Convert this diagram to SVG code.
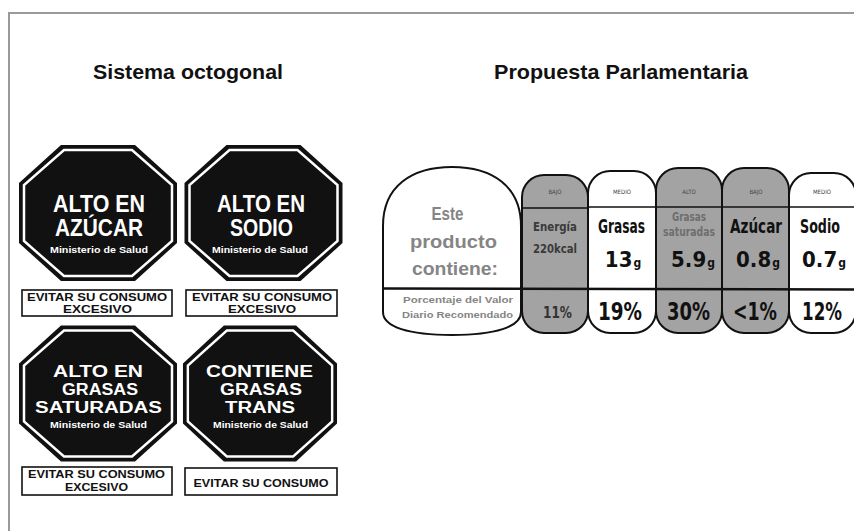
<svg xmlns="http://www.w3.org/2000/svg" width="854" height="531" viewBox="0 0 854 531">
<style>
.title{font-family:"Liberation Sans",Arial,sans-serif;font-weight:bold;font-size:21px;fill:#111;text-anchor:middle}
.oct{fill:#111}
.octin{fill:none;stroke:#fff;stroke-width:2.5}
.ot{font-family:"Liberation Sans",Arial,sans-serif;font-weight:bold;fill:#fff;text-anchor:middle}
.box{fill:#fff;stroke:#111;stroke-width:1.6}
.bt{font-family:"Liberation Sans",Arial,sans-serif;font-weight:bold;font-size:11px;fill:#111;text-anchor:middle}
.col{stroke:#111;stroke-width:2}
.gray{fill:#a3a3a3}
.white{fill:#fff}
.hl{stroke:#111;stroke-width:1.6}
.lt{font-family:"DejaVu Sans Condensed","Liberation Sans",sans-serif;text-anchor:middle}
.it{font-family:"Liberation Sans",Arial,sans-serif;font-weight:bold;fill:#858585;text-anchor:middle}
.hd{font-size:6px;fill:#444}
.nm{font-size:19px;font-weight:bold;fill:#111}
.val{font-size:22px;font-weight:bold;fill:#111}
.sub{font-size:12px}
.pct{font-size:24px;font-weight:bold;fill:#111}
</style>
<defs>
<path id="octo" d="M-37,-68 H37 L79,-30 V30 L37,68 H-37 L-79,30 V-30 Z"/>
<path id="octi" d="M-34,-63 H34 L74,-28 V28 L34,63 H-34 L-74,28 V-28 Z"/>
</defs>
<rect width="854" height="531" fill="#fff"/>
<g id="frame" fill="none" stroke="#9a9a9a" stroke-width="2">
<line x1="8" y1="13" x2="854" y2="13"/>
<line x1="9" y1="12" x2="9" y2="531"/>
</g>
<text class="title" x="188" y="79" textLength="190" lengthAdjust="spacingAndGlyphs">Sistema octogonal</text>
<text class="title" x="621" y="79" textLength="254" lengthAdjust="spacingAndGlyphs">Propuesta Parlamentaria</text>

<g id="oct-azucar">
<use href="#octo" class="oct" transform="translate(98,213)"/>
<use href="#octi" class="octin" transform="translate(98,213)"/>
<text class="ot" x="99" y="212" font-size="23" textLength="92" lengthAdjust="spacingAndGlyphs">ALTO EN</text>
<text class="ot" x="99" y="236" font-size="23" textLength="88" lengthAdjust="spacingAndGlyphs">AZÚCAR</text>
<text class="ot" x="99" y="253" font-size="9.5" textLength="98" lengthAdjust="spacingAndGlyphs">Ministerio de Salud</text>
</g>
<g id="box-azucar">
<rect class="box" x="22" y="290" width="150" height="26"/>
<text class="bt" x="97" y="301" textLength="140" lengthAdjust="spacingAndGlyphs">EVITAR SU CONSUMO</text>
<text class="bt" x="97.5" y="313" textLength="69" lengthAdjust="spacingAndGlyphs">EXCESIVO</text>
</g>

<g id="oct-sodio">
<use href="#octo" class="oct" transform="translate(263.5,213)"/>
<use href="#octi" class="octin" transform="translate(263.5,213)"/>
<text class="ot" x="261" y="212" font-size="23" textLength="88" lengthAdjust="spacingAndGlyphs">ALTO EN</text>
<text class="ot" x="261.5" y="236" font-size="23" textLength="63" lengthAdjust="spacingAndGlyphs">SODIO</text>
<text class="ot" x="260" y="253" font-size="9.5" textLength="96" lengthAdjust="spacingAndGlyphs">Ministerio de Salud</text>
</g>
<g id="box-sodio">
<rect class="box" x="186" y="290" width="151" height="26"/>
<text class="bt" x="262" y="301" textLength="140" lengthAdjust="spacingAndGlyphs">EVITAR SU CONSUMO</text>
<text class="bt" x="262" y="313" textLength="68" lengthAdjust="spacingAndGlyphs">EXCESIVO</text>
</g>

<g id="oct-grasas">
<use href="#octo" class="oct" transform="translate(98,393.5)"/>
<use href="#octi" class="octin" transform="translate(98,393.5)"/>
<text class="ot" x="98" y="377" font-size="16" textLength="90" lengthAdjust="spacingAndGlyphs">ALTO EN</text>
<text class="ot" x="100" y="395" font-size="16" textLength="76" lengthAdjust="spacingAndGlyphs">GRASAS</text>
<text class="ot" x="98.5" y="413" font-size="16" textLength="127" lengthAdjust="spacingAndGlyphs">SATURADAS</text>
<text class="ot" x="98.5" y="427.5" font-size="9" textLength="97" lengthAdjust="spacingAndGlyphs">Ministerio de Salud</text>
</g>
<g id="box-grasas">
<rect class="box" x="22" y="467" width="150" height="28"/>
<text class="bt" x="96.5" y="478" textLength="137" lengthAdjust="spacingAndGlyphs">EVITAR SU CONSUMO</text>
<text class="bt" x="96.5" y="491" textLength="63" lengthAdjust="spacingAndGlyphs">EXCESIVO</text>
</g>

<g id="oct-trans">
<use href="#octo" class="oct" transform="translate(260,393.5) scale(0.975,1)"/>
<use href="#octi" class="octin" transform="translate(260,393.5) scale(0.975,1)"/>
<text class="ot" x="259.5" y="377" font-size="16" textLength="107" lengthAdjust="spacingAndGlyphs">CONTIENE</text>
<text class="ot" x="261" y="395" font-size="16" textLength="82" lengthAdjust="spacingAndGlyphs">GRASAS</text>
<text class="ot" x="260" y="413" font-size="16" textLength="70" lengthAdjust="spacingAndGlyphs">TRANS</text>
<text class="ot" x="260.5" y="427.5" font-size="9" textLength="95" lengthAdjust="spacingAndGlyphs">Ministerio de Salud</text>
</g>
<g id="box-trans">
<rect class="box" x="185" y="468" width="152" height="27"/>
<text class="bt" x="261" y="487" textLength="135" lengthAdjust="spacingAndGlyphs">EVITAR SU CONSUMO</text>
</g>

<g id="label-intro">
<path class="col white" d="M383,226 C383,186 412,167 452,167 C492,167 521,186 521,226 V312 C521,327 495,335 452,335 C409,335 383,327 383,312 Z"/>
<text class="it" x="447.5" y="220" font-size="19" textLength="32" lengthAdjust="spacingAndGlyphs">Este</text>
<text class="it" x="453.5" y="248" font-size="19" textLength="87" lengthAdjust="spacingAndGlyphs">producto</text>
<text class="it" x="455" y="275" font-size="19" textLength="86" lengthAdjust="spacingAndGlyphs">contiene:</text>
<text class="it" x="458" y="303" font-size="9.5" font-weight="normal" textLength="110" lengthAdjust="spacingAndGlyphs">Porcentaje del Valor</text>
<text class="it" x="457.5" y="318" font-size="9.5" font-weight="normal" textLength="111" lengthAdjust="spacingAndGlyphs">Diario Recomendado</text>
</g>

<g id="col-energia">
<path class="col gray" d="M522,197 A22,22 0 0 1 544,175 H566 A22,22 0 0 1 588,197 V311 A22,22 0 0 1 566,333 H544 A22,22 0 0 1 522,311 Z"/>
<line class="hl" x1="522" y1="208" x2="588" y2="208"/>
<text class="lt hd" x="555" y="194">BAJO</text>
<text class="lt" x="555" y="231" font-size="13" font-weight="bold" fill="#3a3a3a" textLength="44" lengthAdjust="spacingAndGlyphs">Energía</text>
<text class="lt" x="555" y="253" font-size="13" font-weight="bold" fill="#3a3a3a" textLength="44" lengthAdjust="spacingAndGlyphs">220kcal</text>
<text class="lt" x="557.5" y="318" font-size="15" font-weight="bold" fill="#333" textLength="29" lengthAdjust="spacingAndGlyphs">11%</text>
</g>

<g id="col-grasas">
<path class="col white" d="M588,193 A22,22 0 0 1 610,171 H634 A22,22 0 0 1 656,193 V311 A22,22 0 0 1 634,333 H610 A22,22 0 0 1 588,311 Z"/>
<line class="hl" x1="588" y1="207" x2="656" y2="207"/>
<text class="lt hd" x="622" y="194">MEDIO</text>
<text class="lt nm" x="621.5" y="233" textLength="47" lengthAdjust="spacingAndGlyphs">Grasas</text>
<text class="lt val" x="623" y="267">13<tspan class="sub" dx="1">g</tspan></text>
<text class="lt pct" x="620" y="320" textLength="44" lengthAdjust="spacingAndGlyphs">19%</text>
</g>

<g id="col-saturadas">
<path class="col gray" d="M656,190 A22,22 0 0 1 678,168 H700 A22,22 0 0 1 722,190 V311 A22,22 0 0 1 700,333 H678 A22,22 0 0 1 656,311 Z"/>
<line class="hl" x1="656" y1="207" x2="722" y2="207"/>
<text class="lt hd" x="689" y="194" fill="#8c8c8c">ALTO</text>
<text class="lt" x="689" y="221" font-size="12" font-weight="bold" fill="#6e6e6e" textLength="34" lengthAdjust="spacingAndGlyphs">Grasas</text>
<text class="lt" x="689" y="236" font-size="12" font-weight="bold" fill="#6e6e6e" textLength="52" lengthAdjust="spacingAndGlyphs">saturadas</text>
<text class="lt val" x="693" y="267">5.9<tspan class="sub" dx="1">g</tspan></text>
<text class="lt pct" x="688.5" y="320" textLength="43" lengthAdjust="spacingAndGlyphs">30%</text>
</g>

<g id="col-azucar">
<path class="col gray" d="M722,190 A22,22 0 0 1 744,168 H767 A22,22 0 0 1 789,190 V311 A22,22 0 0 1 767,333 H744 A22,22 0 0 1 722,311 Z"/>
<line class="hl" x1="722" y1="207" x2="789" y2="207"/>
<text class="lt hd" x="756" y="194">BAJO</text>
<text class="lt nm" x="756" y="233" textLength="52" lengthAdjust="spacingAndGlyphs">Azúcar</text>
<text class="lt val" x="758" y="267">0.8<tspan class="sub" dx="1">g</tspan></text>
<text class="lt pct" x="755" y="320" textLength="44" lengthAdjust="spacingAndGlyphs">&lt;1%</text>
</g>

<g id="col-sodio">
<path class="col white" d="M789,195 A22,22 0 0 1 811,173 H834 A22,22 0 0 1 856,195 V311 A22,22 0 0 1 834,333 H811 A22,22 0 0 1 789,311 Z"/>
<line class="hl" x1="789" y1="207" x2="856" y2="207"/>
<text class="lt hd" x="822" y="194">MEDIO</text>
<text class="lt nm" x="820" y="233" textLength="40" lengthAdjust="spacingAndGlyphs">Sodio</text>
<text class="lt val" x="824" y="267">0.7<tspan class="sub" dx="1">g</tspan></text>
<text class="lt pct" x="822" y="320" textLength="40" lengthAdjust="spacingAndGlyphs">12%</text>
</g>

<g id="connectors">
<line x1="383" y1="288.5" x2="856" y2="289.5" stroke="#111" stroke-width="2.5"/>
</g>
</svg>
